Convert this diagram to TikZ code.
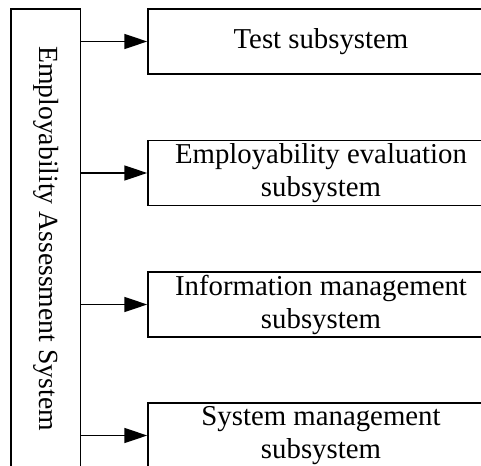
\documentclass[tikz,border=0pt]{standalone}
\usepackage{fontspec}
\setmainfont{Liberation Serif}
\usetikzlibrary{arrows.meta}
\begin{document}
\begin{tikzpicture}[x=1pt, y=-1pt, line width=1.5pt,
  txt/.style={font=\fontsize{28.8}{33}\selectfont},
  sysbox/.style={draw, minimum width=69.5pt, minimum height=460pt, inner sep=0pt},
  subbox/.style={draw, txt, minimum width=346pt, minimum height=65pt, align=center, inner sep=0pt},
  link/.style={-{Triangle[length=23pt, width=15pt]}}]
\useasboundingbox (0,0) rectangle (481,465);
% main system column
\node[sysbox] (sys) at (45.75,239) {};
\node[font=\fontsize{27.7}{32}\selectfont, rotate=-90] (syslabel) at (46.5,238.5) {Employability Assessment System};
% subsystems
\node[subbox] (test) at (321,41.5) {Test subsystem};
\node[subbox] (eval) at (321,173) {Employability evaluation\\subsystem};
\node[subbox] (info) at (321,304.5) {Information management\\subsystem};
\node[subbox] (mgmt) at (321,435.5) {System management\\subsystem};
% connectors
\foreach \n in {test,eval,info,mgmt}
  \draw[link] (sys.east |- \n.west) -- (\n.west);
\end{tikzpicture}
\end{document}
